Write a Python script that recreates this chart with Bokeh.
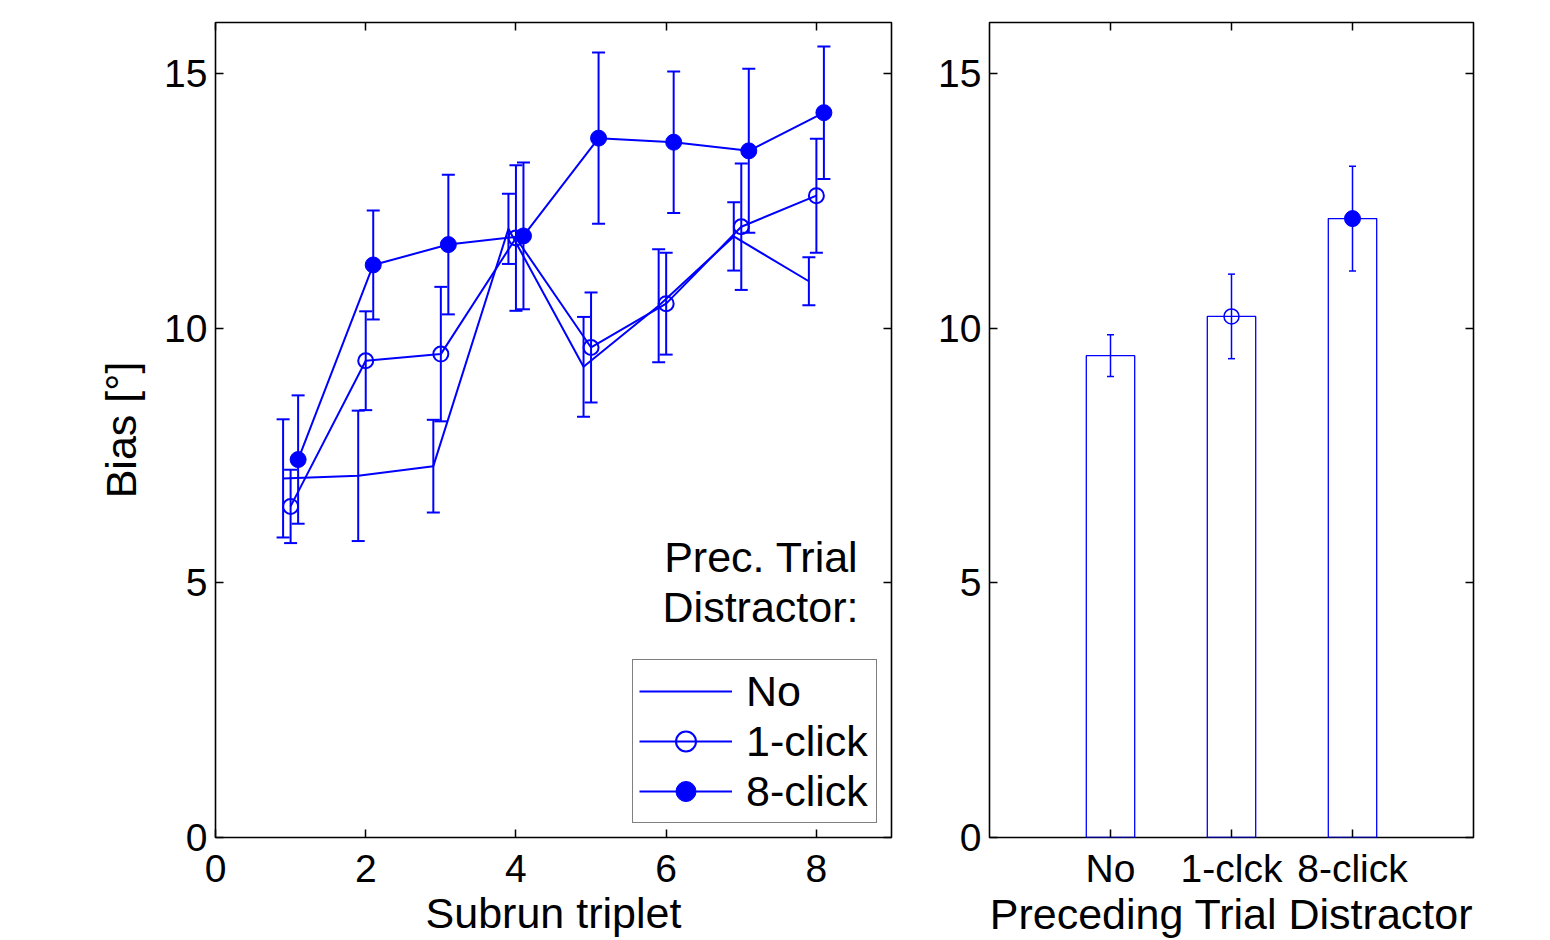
import numpy as np
from bokeh.plotting import figure
from bokeh.models import (ColumnDataSource, Range1d, LinearAxis, FixedTicker,
                          Whisker, TeeHead, Legend, LegendItem)
from bokeh.layouts import row
from bokeh.embed import file_html
from bokeh.resources import INLINE
from bokeh.core.properties import value

# ---------------- data ----------------
subrun = [1, 2, 3, 4, 5, 6, 7, 8]
no_mean = [7.05, 7.10, 7.29, 11.95, 9.24, 10.44, 11.80, 10.92]
no_err = [1.16, 1.28, 0.91, 0.69, 0.98, 1.11, 0.67, 0.47]
one_mean = [6.50, 9.36, 9.49, 11.77, 9.62, 10.48, 11.99, 12.60]
one_err = [0.72, 0.97, 1.32, 1.43, 1.08, 1.00, 1.24, 1.12]
eight_mean = [7.42, 11.24, 11.64, 11.81, 13.73, 13.65, 13.48, 14.23]
eight_err = [1.26, 1.07, 1.37, 1.44, 1.68, 1.39, 1.61, 1.30]
series_labels = ["No", "1-click", "8-click"]
legend_title = ["Prec. Trial", "Distractor:"]

bar_labels = ["No", "1-clck", "8-click"]
bar_mean = [9.46, 10.23, 12.15]
bar_err = [0.41, 0.83, 1.03]

left_xticks = [0, 2, 4, 6, 8]
yticks = [0, 5, 10, 15]

BLUE = "#0000ff"
FONT = "Liberation Sans"
TICK_FS = "39px"
LABEL_FS = "43px"


def style(p, xticks, yticks_, tick_standoff=17, label_standoff=4):
    p.xgrid.visible = False
    p.ygrid.visible = False
    p.outline_line_color = "black"
    p.outline_line_width = 1.6
    p.outline_line_alpha = 1
    # extra axes carrying only inner ticks on top and right
    top = LinearAxis(ticker=FixedTicker(ticks=xticks))
    right = LinearAxis(ticker=FixedTicker(ticks=yticks_))
    top.major_label_overrides = {t: "" for t in xticks}
    right.major_label_overrides = {t: "" for t in yticks_}
    p.add_layout(top, "above")
    p.add_layout(right, "right")
    for ax in p.axis:
        ax.axis_line_color = None
        ax.major_tick_in = 8
        ax.major_tick_out = 0
        ax.major_tick_line_width = 1.5
        ax.major_tick_line_color = "black"
        ax.minor_tick_line_color = None
        ax.major_label_text_font = FONT
        ax.major_label_text_font_size = TICK_FS
        ax.major_label_text_color = "black"
        ax.axis_label_text_font = FONT
        ax.axis_label_text_font_size = LABEL_FS
        ax.axis_label_text_font_style = "normal"
        ax.axis_label_text_color = "black"
    p.below[0].ticker = FixedTicker(ticks=xticks)
    p.left[0].ticker = FixedTicker(ticks=yticks_)
    for ax in (top, right):
        ax.major_label_text_font_size = "1px"
        ax.major_label_standoff = 0
    p.below[0].major_label_standoff = tick_standoff
    p.below[0].axis_label_standoff = label_standoff
    p.left[0].major_label_standoff = 8
    p.left[0].axis_label_standoff = 16


# ---------------- left panel ----------------
p1 = figure(frame_width=676, frame_height=815, x_range=Range1d(0, 9), y_range=Range1d(0, 16),
            output_backend="svg", toolbar_location=None,
            min_border_left=215, min_border_right=10, min_border_top=22, min_border_bottom=95)
p1.xaxis.axis_label = "Subrun triplet"
p1.yaxis.axis_label = "Bias [°]"

sr = np.array(subrun, dtype=float)
offsets = [-0.1, 0.0, 0.1]
means = [no_mean, one_mean, eight_mean]
errs = [no_err, one_err, eight_err]
renderers = []
for k in range(3):
    m = np.array(means[k])
    e = np.array(errs[k])
    src = ColumnDataSource(dict(x=sr + offsets[k], y=m, lo=m - e, hi=m + e))
    w = Whisker(base="x", upper="hi", lower="lo", source=src, dimension="height",
                line_color=BLUE, line_width=2,
                upper_head=TeeHead(size=13, line_color=BLUE, line_width=2),
                lower_head=TeeHead(size=13, line_color=BLUE, line_width=2))
    p1.add_layout(w)
    rl = p1.line("x", "y", source=src, line_color=BLUE, line_width=2)
    rs = []
    if k == 1:
        rs = [p1.scatter("x", "y", source=src, marker="circle", size=15, fill_color=None,
                         line_color=BLUE, line_width=2)]
    elif k == 2:
        rs = [p1.scatter("x", "y", source=src, marker="circle", size=16, fill_color=BLUE,
                         line_color=BLUE, line_width=1)]
    renderers.append([rl] + rs)

legend = Legend(items=[LegendItem(label=series_labels[k], renderers=renderers[k]) for k in range(3)],
                location="bottom_right", margin=14, padding=6, spacing=0,
                glyph_width=93, glyph_height=50, label_height=50, label_width=124,
                label_standoff=14,
                label_text_font=FONT, label_text_font_size="43px", label_text_color="black",
                border_line_color="black", border_line_width=1.6, background_fill_alpha=1)
p1.add_layout(legend)

p1.text(x=[8.56, 8.56], y=[5.51, 4.52], text=legend_title, text_align="right",
        text_baseline="alphabetic", text_font=value(FONT), text_font_size="43px",
        text_color="black")

style(p1, left_xticks, yticks)

# ---------------- right panel ----------------
bx = np.arange(1, len(bar_labels) + 1, dtype=float)
p2 = figure(frame_width=484, frame_height=815, x_range=Range1d(0, 4), y_range=Range1d(0, 16),
            output_backend="svg", toolbar_location=None,
            min_border_left=88, min_border_right=40, min_border_top=22, min_border_bottom=95)
p2.xaxis.axis_label = "Preceding Trial Distractor"
bm = np.array(bar_mean)
be = np.array(bar_err)
bsrc = ColumnDataSource(dict(x=bx, y=bm, lo=bm - be, hi=bm + be))
p2.vbar(x="x", top="y", width=0.4, source=bsrc, fill_color=None, line_color=BLUE, line_width=1.3)
p2.add_layout(Whisker(base="x", upper="hi", lower="lo", source=bsrc, dimension="height",
                      line_color=BLUE, line_width=1.5,
                      upper_head=TeeHead(size=7, line_color=BLUE, line_width=1.5),
                      lower_head=TeeHead(size=7, line_color=BLUE, line_width=1.5)))
p2.scatter(x=bx[1:2], y=bm[1:2], marker="circle", size=15, fill_color=None,
           line_color=BLUE, line_width=1.5)
p2.scatter(x=bx[2:3], y=bm[2:3], marker="circle", size=16, fill_color=BLUE,
           line_color=BLUE, line_width=1)

style(p2, [int(v) for v in bx], yticks, tick_standoff=9, label_standoff=-3)
p2.below[0].major_label_overrides = {int(v): lab for v, lab in zip(bx, bar_labels)}

layout = row(p1, p2, spacing=0)
open("out.html", "w").write(file_html(layout, INLINE))
